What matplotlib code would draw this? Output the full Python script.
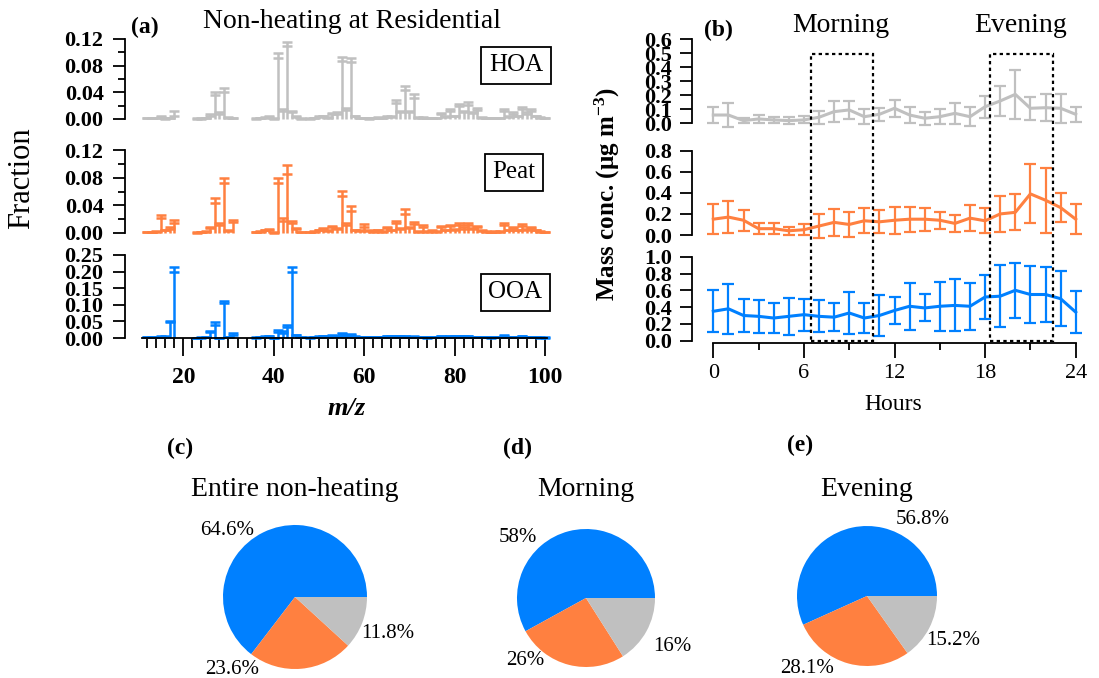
import numpy as np
import matplotlib
matplotlib.use("Agg")
import matplotlib.pyplot as plt
from matplotlib.patches import Rectangle
from matplotlib.transforms import blended_transform_factory
from matplotlib.ticker import MultipleLocator

plt.rcParams['font.family'] = ['Liberation Serif', 'DejaVu Serif']
plt.rcParams['mathtext.fontset'] = 'custom'
plt.rcParams['mathtext.rm'] = 'Liberation Serif'
plt.rcParams['mathtext.bf'] = 'Liberation Serif:bold'
plt.rcParams['mathtext.it'] = 'Liberation Serif:italic'

nan = np.nan

# ---- data ----
factors = ['HOA', 'Peat', 'OOA']
colors = {'HOA': '#C0C0C0', 'Peat': '#FF8040', 'OOA': '#0080FF'}

mz = np.arange(12, 101)

# mass spectra, m/z 12..100 (10 per row)
hoa_ms = [0.001, 0.001, 0.001, 0.003, 0.000, 0.001, 0.004, nan, nan, nan,
          nan, 0.000, 0.000, 0.001, 0.005, 0.036, 0.008, 0.041, 0.002, 0.001,
          nan, nan, nan, nan, 0.000, 0.001, 0.002, 0.003, 0.000, 0.092,
          0.012, 0.109, 0.010, 0.003, 0.000, nan, 0.000, 0.001, 0.003, 0.004,
          0.002, 0.007, 0.008, 0.087, 0.014, 0.085, 0.004, 0.001, 0.001, 0.000,
          0.001, 0.002, 0.001, 0.003, 0.003, 0.024, 0.010, 0.043, 0.010, 0.032,
          0.002, 0.002, 0.001, 0.001, 0.001, 0.007, 0.003, 0.012, 0.004, 0.019,
          0.010, 0.021, 0.009, 0.014, 0.002, 0.001, 0.001, 0.001, 0.001, 0.012,
          0.003, 0.008, 0.004, 0.015, 0.008, 0.012, 0.004, 0.002, 0.001]
hoa_ms_err = [0.001, 0.001, 0.001, 0.001, 0.001, 0.001, 0.008, nan, nan, nan,
              nan, 0.001, 0.001, 0.001, 0.002, 0.005, 0.002, 0.006, 0.001, 0.001,
              nan, nan, nan, nan, 0.001, 0.001, 0.001, 0.001, 0.001, 0.007,
              0.003, 0.006, 0.002, 0.001, 0.001, nan, 0.001, 0.001, 0.001, 0.001,
              0.001, 0.002, 0.002, 0.006, 0.003, 0.006, 0.001, 0.001, 0.001, 0.001,
              0.001, 0.001, 0.001, 0.001, 0.001, 0.004, 0.002, 0.006, 0.002, 0.005,
              0.001, 0.001, 0.001, 0.001, 0.001, 0.002, 0.001, 0.003, 0.001, 0.003,
              0.002, 0.004, 0.002, 0.003, 0.001, 0.001, 0.001, 0.001, 0.001, 0.003,
              0.001, 0.002, 0.001, 0.003, 0.002, 0.003, 0.001, 0.001, 0.001]

peat_ms = [0.001, 0.001, 0.002, 0.021, 0.004, 0.006, 0.015, nan, nan, nan,
           nan, 0.000, 0.001, 0.002, 0.007, 0.044, 0.012, 0.073, 0.003, 0.016,
           nan, nan, nan, nan, 0.001, 0.002, 0.004, 0.005, 0.000, 0.073,
           0.018, 0.085, 0.015, 0.006, 0.001, nan, 0.001, 0.002, 0.004, 0.006,
           0.003, 0.008, 0.006, 0.054, 0.012, 0.032, 0.004, 0.003, 0.009, 0.003,
           0.002, 0.004, 0.002, 0.007, 0.004, 0.014, 0.006, 0.028, 0.007, 0.013,
           0.002, 0.009, 0.002, 0.003, 0.002, 0.008, 0.004, 0.010, 0.005, 0.012,
           0.006, 0.011, 0.006, 0.008, 0.003, 0.002, 0.001, 0.002, 0.002, 0.012,
           0.004, 0.007, 0.004, 0.010, 0.005, 0.007, 0.004, 0.002, 0.001]
peat_ms_err = [0.001, 0.001, 0.001, 0.005, 0.001, 0.002, 0.004, nan, nan, nan,
               nan, 0.001, 0.001, 0.001, 0.002, 0.006, 0.002, 0.006, 0.001, 0.003,
               nan, nan, nan, nan, 0.001, 0.001, 0.001, 0.001, 0.001, 0.006,
               0.003, 0.014, 0.003, 0.001, 0.001, nan, 0.001, 0.001, 0.001, 0.001,
               0.001, 0.002, 0.001, 0.007, 0.002, 0.007, 0.001, 0.001, 0.004, 0.001,
               0.001, 0.001, 0.001, 0.002, 0.001, 0.003, 0.001, 0.006, 0.002, 0.003,
               0.001, 0.002, 0.001, 0.001, 0.001, 0.002, 0.001, 0.002, 0.001, 0.003,
               0.002, 0.003, 0.001, 0.002, 0.001, 0.001, 0.001, 0.001, 0.001, 0.003,
               0.001, 0.002, 0.001, 0.003, 0.001, 0.002, 0.001, 0.001, 0.001]

ooa_ms = [0.003, 0.002, 0.003, 0.004, 0.004, 0.047, 0.198, nan, nan, nan,
          nan, 0.000, 0.001, 0.002, 0.018, 0.040, 0.000, 0.105, 0.002, 0.010,
          nan, nan, nan, nan, 0.001, 0.002, 0.004, 0.005, 0.000, 0.018,
          0.016, 0.033, 0.198, 0.008, 0.002, nan, 0.001, 0.002, 0.004, 0.005,
          0.004, 0.007, 0.006, 0.011, 0.007, 0.009, 0.004, 0.003, 0.003, 0.002,
          0.002, 0.003, 0.003, 0.005, 0.004, 0.006, 0.004, 0.006, 0.003, 0.004,
          0.002, 0.002, 0.001, 0.002, 0.002, 0.005, 0.003, 0.006, 0.004, 0.006,
          0.004, 0.005, 0.003, 0.003, 0.002, 0.002, 0.001, 0.002, 0.002, 0.006,
          0.002, 0.003, 0.002, 0.005, 0.002, 0.003, 0.002, 0.001, 0.001]
ooa_ms_err = [0.001, 0.001, 0.001, 0.001, 0.001, 0.003, 0.015, nan, nan, nan,
              nan, 0.001, 0.001, 0.001, 0.004, 0.008, 0.001, 0.007, 0.001, 0.004,
              nan, nan, nan, nan, 0.001, 0.001, 0.001, 0.001, 0.001, 0.005,
              0.004, 0.006, 0.015, 0.002, 0.001, nan, 0.001, 0.001, 0.001, 0.001,
              0.001, 0.001, 0.001, 0.003, 0.001, 0.002, 0.001, 0.001, 0.001, 0.001,
              0.001, 0.001, 0.001, 0.001, 0.001, 0.001, 0.001, 0.001, 0.001, 0.001,
              0.001, 0.001, 0.001, 0.001, 0.001, 0.001, 0.001, 0.001, 0.001, 0.001,
              0.001, 0.001, 0.001, 0.001, 0.001, 0.001, 0.001, 0.001, 0.001, 0.002,
              0.001, 0.001, 0.001, 0.001, 0.001, 0.001, 0.001, 0.001, 0.001]

# diurnal cycles, hours 0..24
hours = np.arange(0, 25)
hoa_diurnal = [0.059, 0.059, 0.019, 0.031, 0.024, 0.019, 0.024, 0.043, 0.083, 0.095,
               0.047, 0.064, 0.107, 0.059, 0.036, 0.047, 0.071, 0.047, 0.118, 0.159,
               0.206, 0.107, 0.111, 0.107, 0.064]
hoa_diurnal_err = [0.055, 0.083, 0.020, 0.027, 0.020, 0.025, 0.025, 0.047, 0.077, 0.065,
                   0.053, 0.047, 0.059, 0.059, 0.047, 0.053, 0.077, 0.069, 0.077, 0.107,
                   0.172, 0.083, 0.095, 0.104, 0.053]
peat_diurnal = [0.15, 0.17, 0.14, 0.06, 0.06, 0.04, 0.05, 0.085, 0.12, 0.10,
                0.135, 0.125, 0.14, 0.15, 0.15, 0.14, 0.11, 0.16, 0.135, 0.20,
                0.215, 0.39, 0.33, 0.26, 0.15]
peat_diurnal_err = [0.14, 0.15, 0.10, 0.05, 0.05, 0.04, 0.05, 0.11, 0.13, 0.12,
                    0.12, 0.11, 0.13, 0.12, 0.11, 0.08, 0.08, 0.12, 0.12, 0.17,
                    0.17, 0.28, 0.31, 0.14, 0.14]
ooa_diurnal = [0.35, 0.38, 0.30, 0.29, 0.27, 0.29, 0.31, 0.29, 0.28, 0.33,
               0.27, 0.30, 0.36, 0.41, 0.39, 0.41, 0.42, 0.41, 0.52, 0.53,
               0.60, 0.55, 0.55, 0.50, 0.34]
ooa_diurnal_err = [0.25, 0.30, 0.20, 0.20, 0.18, 0.22, 0.19, 0.19, 0.17, 0.25,
                   0.18, 0.24, 0.16, 0.28, 0.16, 0.29, 0.31, 0.28, 0.26, 0.37,
                   0.33, 0.34, 0.33, 0.33, 0.25]

morning = (6.5, 10.6)
evening = (18.3, 22.5)

# pie fractions (%), order OOA, Peat, HOA
pie_order = ['OOA', 'Peat', 'HOA']
pie_titles = ['Entire non-heating', 'Morning', 'Evening']
pie_tags = ['(c)', '(d)', '(e)']
pie_fracs = [[64.6, 23.6, 11.8],
             [58, 26, 16],
             [56.8, 28.1, 15.2]]
pie_labels = [['64.6%', '23.6%', '11.8%'],
              ['58%', '26%', '16%'],
              ['56.8%', '28.1%', '15.2%']]

spectra = {'HOA': (hoa_ms, hoa_ms_err), 'Peat': (peat_ms, peat_ms_err),
           'OOA': (ooa_ms, ooa_ms_err)}
diurnal = {'HOA': (hoa_diurnal, hoa_diurnal_err), 'Peat': (peat_diurnal, peat_diurnal_err),
           'OOA': (ooa_diurnal, ooa_diurnal_err)}

# ---- layout (pixels from top-left) ----
W, H = 1099, 678
fig = plt.figure(figsize=(W / 100, H / 100), dpi=100)


def px_axes(x0, y0, x1, y1):
    return fig.add_axes([x0 / W, 1 - y1 / H, (x1 - x0) / W, (y1 - y0) / H])


def style_left(ax, outward, major, minor, ylim, bottom=False, lab_size=16, pad=7):
    for s in ['top', 'right']:
        ax.spines[s].set_visible(False)
    ax.spines['bottom'].set_visible(bottom)
    ax.spines['left'].set_position(('outward', outward))
    ax.spines['left'].set_linewidth(1.3)
    ax.spines['bottom'].set_linewidth(1.3)
    ax.set_ylim(*ylim)
    ax.yaxis.set_major_locator(MultipleLocator(major))
    if minor:
        ax.yaxis.set_minor_locator(MultipleLocator(minor))
    ax.tick_params(axis='y', which='major', length=8.5, width=1.3, pad=pad, labelsize=lab_size)
    ax.tick_params(axis='y', which='minor', length=5, width=1.3)
    for t in ax.get_yticklabels():
        t.set_fontweight('bold')
    if not bottom:
        ax.tick_params(axis='x', which='both', bottom=False, labelbottom=False)


# panel (a): mass spectra
a_rows = {'HOA': (39, 119, (0, 0.12), 0.04, 0.02),
          'Peat': (150, 233, (0, 0.12), 0.04, 0.02),
          'OOA': (255, 338, (0, 0.25), 0.05, None)}
tag_pos = {'HOA': (516, 65), 'Peat': (514, 172), 'OOA': (515, 292)}
for f in factors:
    y0, y1, ylim, major, minor = a_rows[f]
    ax = px_axes(141.7, y0, 547.2, y1)
    val, err = spectra[f]
    val = np.array(val)
    err = np.array(err)
    ax.vlines(mz, 0, val, color=colors[f], lw=1.8, clip_on=False)
    ax.errorbar(mz, val, yerr=[np.zeros_like(err), err], fmt='none', ecolor=colors[f],
                elinewidth=1.8, capsize=3.6, capthick=1.8, clip_on=False)
    ax.set_xlim(10.8, 100.5)
    is_bottom = f == 'OOA'
    style_left(ax, 12, major, minor, ylim, bottom=is_bottom)
    if is_bottom:
        ax.set_xticks([20, 40, 60, 80, 100])
        ax.xaxis.set_minor_locator(MultipleLocator(2))
        ax.tick_params(axis='x', which='major', length=13, width=1.3, pad=8, labelsize=17)
        ax.tick_params(axis='x', which='minor', length=7, width=1.3)
        for t in ax.get_xticklabels():
            t.set_fontweight('bold')
    ax.patch.set_alpha(0)
    fig.text(tag_pos[f][0] / W, 1 - tag_pos[f][1] / H, f, fontsize=18, ha='center', va='center',
             bbox=dict(boxstyle='square,pad=0.3', fc='white', ec='black', lw=1.3))

fig.text(22 / W, 1 - 178 / H, 'Fraction', rotation=90, fontsize=22, ha='center', va='center')
fig.text(347 / W, 1 - 408 / H, 'm/z', fontsize=19, fontweight='bold', fontstyle='italic',
         ha='center', va='center')
fig.text(352 / W, 1 - 22 / H, 'Non-heating at Residential', fontsize=20, ha='center', va='center')
fig.text(145 / W, 1 - 27 / H, '(a)', fontsize=17, fontweight='bold', ha='center', va='center')

# panel (b): diurnal cycles
b_rows = {'HOA': (39, 123.3, (0, 0.6), 0.1),
          'Peat': (150.7, 235, (0, 0.8), 0.2),
          'OOA': (256.7, 340.7, (0, 1.0), 0.2)}
for f in factors:
    y0, y1, ylim, major = b_rows[f]
    ax = px_axes(713.3, y0, 1075.7, y1)
    val, err = diurnal[f]
    ax.errorbar(hours, val, yerr=err, color=colors[f], lw=2.2, elinewidth=1.6,
                capsize=4.5, capthick=1.6, clip_on=False)
    ax.set_xlim(0, 24)
    is_bottom = f == 'OOA'
    style_left(ax, 15, major, None, ylim, bottom=is_bottom, pad=6)
    ax.patch.set_alpha(0)
    if is_bottom:
        bottom_ax = ax
        ax.spines['bottom'].set_position(('outward', 1.5))
        ax.xaxis.set_major_locator(MultipleLocator(6))
        ax.xaxis.set_minor_locator(MultipleLocator(3))
        ax.tick_params(axis='x', which='major', length=11, width=1.3, pad=4, labelsize=16)
        ax.tick_params(axis='x', which='minor', length=5, width=1.3)

trans = blended_transform_factory(bottom_ax.transData, fig.transFigure)
for lo, hi in [morning, evening]:
    fig.add_artist(Rectangle((lo, 1 - 340.7 / H), hi - lo, (340.7 - 54) / H, transform=trans,
                             fill=False, ec='black', lw=1.6, ls=(0, (1.5, 1.5))))

fig.text(607 / W, 1 - 194 / H, r'Mass conc. ($\mathbf{\mu}$g m$^{\mathbf{-3}}$)', rotation=90,
         fontsize=18, fontweight='bold', ha='center', va='center')
fig.text(893 / W, 1 - 405 / H, 'Hours', fontsize=17, ha='center', va='center')
fig.text(841 / W, 1 - 25 / H, 'Morning', fontsize=20, ha='center', va='center')
fig.text(1021 / W, 1 - 25 / H, 'Evening', fontsize=20, ha='center', va='center')
fig.text(718 / W, 1 - 30 / H, '(b)', fontsize=17, fontweight='bold', ha='center', va='center')

# pies (c)-(e)
pie_centers = [(295, 597, 72), (586, 598, 69), (867, 596, 70)]
tag_xy = [(180, 448), (517, 448), (800, 445)]
title_y = 490
# label offsets in radius units (x right, y up), in pie_order
label_off = [[(-0.94, 0.93), (-0.88, -1.01), (1.29, -0.5)],
             [(-0.99, 0.88), (-0.88, -0.9), (1.25, -0.71)],
             [(0.8, 1.09), (-0.86, -1.03), (1.23, -0.63)]]
L = 1.6
for i in range(3):
    cx, cy, r = pie_centers[i]
    ax = px_axes(cx - L * r, cy - L * r, cx + L * r, cy + L * r)
    ax.pie(pie_fracs[i], colors=[colors[f] for f in pie_order], startangle=0,
           counterclock=True, radius=1)
    ax.set_xlim(-L, L)
    ax.set_ylim(-L, L)
    ax.set_aspect('equal')
    for j in range(3):
        dx, dy = label_off[i][j]
        ax.text(dx, dy, pie_labels[i][j], fontsize=15, ha='center', va='center')
    fig.text(cx / W, 1 - title_y / H, pie_titles[i], fontsize=20, ha='center', va='center')
    fig.text(tag_xy[i][0] / W, 1 - tag_xy[i][1] / H, pie_tags[i], fontsize=17,
             fontweight='bold', ha='center', va='center')

fig.savefig('out.png', dpi=100)
